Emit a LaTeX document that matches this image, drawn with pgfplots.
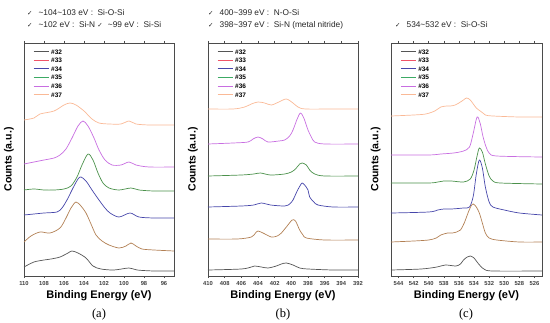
\documentclass[border=0pt]{standalone}
\usepackage{fontspec}
\setmainfont{Liberation Sans}
\newfontfamily\capfont{Liberation Serif}
\newfontfamily\symfont{DejaVu Sans}
\usepackage{pgfplots}
\pgfplotsset{compat=1.18}

\definecolor{c32}{RGB}{85,85,85}
\definecolor{c33}{RGB}{178,128,84}
\definecolor{c33leg}{RGB}{240,85,105}
\definecolor{c34}{RGB}{70,70,170}
\definecolor{c35}{RGB}{75,145,75}
\definecolor{c35leg}{RGB}{60,170,100}
\definecolor{c36}{RGB}{200,110,225}
\definecolor{c37}{RGB}{250,185,150}
\definecolor{frame}{RGB}{75,75,75}

\newcommand{\ck}{{\symfont\fontsize{6.5}{7}\selectfont ✓}}
\newcommand{\tl}{\textasciitilde}

\pgfplotsset{
  legend image code/.code={\draw[#1] (0pt,0pt) -- (15pt,0pt);},
  panel/.style={
    width=150pt, height=233pt, scale only axis,
    x dir=reverse, ymin=0, ymax=233, enlargelimits=false,
    ytick=\empty,
    axis line style={draw=frame, line width=0.9pt},
    tick align=outside, major tick length=2pt,
    tick style={draw=frame, line width=0.5pt},
    tick label style={font=\fontsize{5.8}{6.5}\selectfont\bfseries, text=black!75},
    /pgf/number format/assume math mode=true,
    /pgf/number format/set thousands separator={},
    xlabel={Binding Energy (eV)},
    xlabel style={font=\fontsize{11}{12}\selectfont\bfseries, yshift=2pt},
    ylabel={Counts (a.u.)},
    ylabel style={font=\fontsize{10.5}{12}\selectfont\bfseries,
                  at={(axis description cs:-0.045,0.5)}, anchor=south},
    legend style={draw=none, fill=none, at={(axis description cs:0.06,0.975)},
                  anchor=north west, font=\fontsize{6.5}{7}\selectfont\bfseries,
                  row sep=3.6pt, inner sep=0pt,
                  nodes={inner ysep=0pt, inner xsep=2pt, text height=5pt, text depth=0pt}},
    legend cell align=left,
  },
  crv/.style={smooth, tension=0.5, line width=0.7pt, no marks, forget plot},
}

\newcommand{\legs}{%
  \addlegendimage{c32, line width=1pt}\addlegendentry{\#32}
  \addlegendimage{c33leg, line width=0.8pt}\addlegendentry{\#33}
  \addlegendimage{c34, line width=0.8pt}\addlegendentry{\#34}
  \addlegendimage{c35leg, line width=0.8pt}\addlegendentry{\#35}
  \addlegendimage{c36, line width=0.8pt}\addlegendentry{\#36}
  \addlegendimage{c37, line width=0.8pt}\addlegendentry{\#37}}

\begin{document}
\begin{tikzpicture}
\useasboundingbox (0pt,0pt) rectangle (550pt,322pt);

% ---------- (a) Si 2p ----------
\begin{axis}[panel, at={(24pt,46pt)}, anchor=south west, xmin=95, xmax=110, xtick={96,98,...,110}]
\legs
\addplot[crv, c37] coordinates {(110,156) (109,158) (108.4,162) (107,165) (106,171) (105.4,173) (104.8,171) (104,165) (103.2,157) (102.5,153) (101.5,152) (100.3,152) (99.5,155) (98.8,152) (97.5,151) (96,151) (95,151)};
\addplot[crv, c36] coordinates {(110,112) (109,114) (108,116) (107,118) (106.4,121) (105.8,127) (105.2,138) (104.6,150) (104.1,155) (103.6,150) (103,138) (102.5,126) (101.9,116) (101.2,111) (100.3,111) (99.5,114) (98.8,111) (97.5,109) (95,109)};
\addplot[crv, c35] coordinates {(110,86) (109,87) (108,86) (107,86) (106,87) (105.3,90) (104.7,99) (104.2,111) (103.6,122) (103.1,116) (102.6,103) (102.1,93) (101.5,88) (100.5,86) (99.3,88) (98.5,86) (97,85) (95,85)};
\addplot[crv, c34] coordinates {(110,61) (109,62) (108,63) (106.7,64) (106.2,68) (105.7,76) (105.1,88) (104.6,97) (104.3,99) (103.8,95) (103.2,86) (102.5,76) (101.9,68) (101.4,63) (100.5,59) (99.4,63) (98.5,59) (97,58) (95,58)};
\addplot[crv, c33] coordinates {(110,34) (109.3,40) (108.4,44) (107.4,43) (106.4,48) (105.8,58) (105.3,68) (104.8,74) (104.3,70) (103.8,63) (103.3,52) (102.8,41) (102.2,35) (101.5,31) (100.5,28) (99.8,30) (99.3,33) (98.8,30) (98.2,27) (97,26) (95,25)};
\addplot[crv, c32] coordinates {(110,9) (109,14) (108,16) (107.3,17) (106.4,19) (105.6,23) (105.2,25) (104.6,23) (103.8,18) (103.1,10) (102.3,7) (101,6) (99.5,8) (98.7,6) (97,5) (95,5)};
\end{axis}

% ---------- (b) N 1s ----------
\begin{axis}[panel, at={(208pt,46pt)}, anchor=south west, xmin=392, xmax=410, xtick={392,394,...,410}]
\legs
\addplot[crv, c37] coordinates {(410,167) (407,167) (405.6,169) (404.8,172) (404,174) (403.2,173) (402.4,171) (401.5,174) (400.6,177) (399.8,173) (399.2,169) (398.3,167) (395,167) (392,167)};
\addplot[crv, c36] coordinates {(410,132) (407,133) (405.2,134) (404.6,137) (404,139) (403.4,137) (402.8,134) (401.5,135) (400.8,136) (400.2,140) (399.8,146) (399.3,157) (398.9,163) (398.5,158) (398,146) (397.6,139) (397.2,134) (396,132) (392,132)};
\addplot[crv, c35] coordinates {(410,100) (406,101) (404.5,102) (403.7,103) (402.5,101) (400.8,102) (400,104) (399.5,107) (399,112) (398.7,113) (398.2,111) (397.8,106) (397.2,102) (396,100) (392,100)};
\addplot[crv, c34] coordinates {(410,69) (406,70) (404.5,71) (403.6,73) (402.5,71) (400.8,70) (400.2,72) (399.8,76) (399.3,85) (398.9,91) (398.7,93) (398.4,91) (398,86) (397.8,79) (397.3,74) (396.8,71) (395,69) (392,69)};
\addplot[crv, c33] coordinates {(410,37) (406.5,37) (404.8,39) (404.3,43) (404,45) (403.4,43) (402.4,39) (401.7,40) (401.2,43) (400.5,50) (399.9,56) (399.5,55) (399,46) (398.6,41) (398.2,38) (396,36) (392,36)};
\addplot[crv, c32] coordinates {(410,6) (406,7) (404.8,9) (404.4,10) (403.6,9) (402.8,8) (401.8,10) (401.2,12) (400.6,13) (399.8,11) (399,8) (398,7) (395,6) (392,6)};
\end{axis}

% ---------- (c) O 1s ----------
\begin{axis}[panel, at={(391pt,46pt)}, anchor=south west, width=151pt, xmin=525, xmax=545, xtick={526,528,...,544}]
\legs
\addplot[crv, c37] coordinates {(545,160) (542,161) (540.4,162) (539.2,165) (538.4,169) (537.6,170) (537.1,170) (536.5,171) (536,173) (535.4,176) (535,178) (534.5,176) (533.7,168) (533,164) (532.5,161) (531.5,160) (528,159) (525,159)};
\addplot[crv, c36] coordinates {(545,121) (540,121) (538.4,122) (536.7,123) (535.4,125) (534.6,129) (534.1,143) (533.6,159) (533.2,153) (532.8,139) (532.4,129) (532,123) (531,120) (525,119)};
\addplot[crv, c35] coordinates {(545,93) (540,93) (538.8,94) (538,95) (537,95) (535.4,94) (534.5,97) (534,106) (533.6,120) (533.3,128) (532.9,124) (532.5,112) (532,100) (531.5,95) (530.5,93) (525,92)};
\addplot[crv, c34] coordinates {(545,63) (540,64) (538.8,66) (538,67) (537,67) (535.4,68) (534.6,69) (534.1,80) (533.7,102) (533.3,116) (532.9,108) (532.5,89) (532,74) (531.5,69) (530,66) (528,63) (525,61)};
\addplot[crv, c33] coordinates {(545,34) (542,35) (540,36) (539,38) (538.4,41) (537.5,43) (536.9,43) (536.3,44) (535.8,46) (535.3,53) (534.8,63) (534.4,70) (534.1,72) (533.7,69) (533.3,63) (532.9,53) (532.5,43) (532,38) (531,36) (528,34) (525,34)};
\addplot[crv, c32] coordinates {(545,6) (541,7) (538.9,9) (537.8,11) (536.4,10) (535.8,12) (535.4,16) (534.9,19) (534.5,20) (534,18) (533.5,13) (532.7,7) (531.5,5) (525,5)};
\end{axis}

% ---------- annotations ----------
\begin{scope}[every node/.style={anchor=west, inner sep=0pt, font=\fontsize{8.3}{9}\selectfont, text=black!85}]
\node at (27pt,309pt) {\ck\hspace{6pt}\tl104\tl103 eV :\ \ Si-O-Si};
\node at (27pt,297pt) {\ck\hspace{6pt}\tl102 eV :\ \ Si-N \ck\hspace{5pt}\tl99 eV :\ \ Si-Si};
\node at (208pt,309pt) {\ck\hspace{6pt}400\tl399 eV :\ \ N-O-Si};
\node at (208pt,297pt) {\ck\hspace{6pt}398\tl397 eV :\ \ Si-N (metal nitride)};
\node at (395pt,297pt) {\ck\hspace{6pt}534\tl532 eV :\ \ Si-O-Si};
\end{scope}
\begin{scope}[every node/.style={inner sep=0pt, font=\capfont\fontsize{12.5}{14}\selectfont}]
\node at (99pt,8pt) {(a)};
\node at (283pt,8pt) {(b)};
\node at (466pt,8pt) {(c)};
\end{scope}
\end{tikzpicture}
\end{document}
